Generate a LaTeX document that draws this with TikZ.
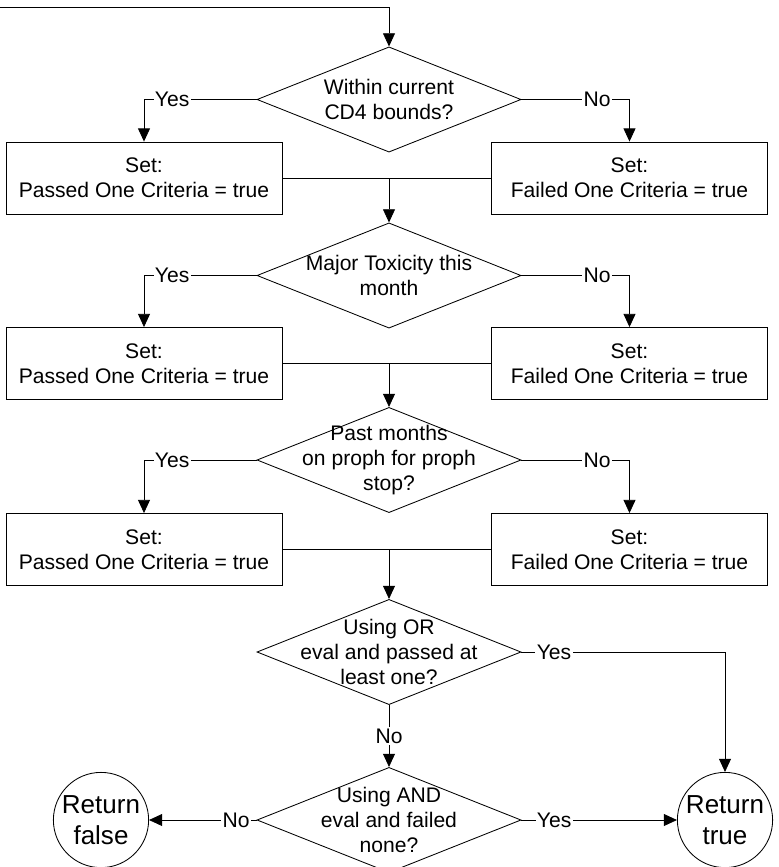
\documentclass[tikz,border=0pt]{standalone}
\usepackage{fontspec}
\setmainfont{Liberation Sans}
\usetikzlibrary{arrows.meta,shapes.geometric}

\begin{document}
\begin{tikzpicture}
[x=0.025cm,y=-0.025cm,
edge/.style={line width=0.6pt},
arrowEnd/.style={-{Triangle[length=0.33cm,width=0.3cm]}},
decision/.style={diamond,draw,line width=0.6pt,minimum width=6.6cm,minimum height=2.63cm,inner sep=-2cm,align=center,font=\fontsize{15}{17.5}\selectfont},
setBox/.style={rectangle,draw,line width=0.6pt,minimum width=6.9cm,minimum height=1.8cm,align=center,font=\fontsize{15}{17.5}\selectfont},
returnNode/.style={circle,draw,line width=0.6pt,minimum size=2.38cm,inner sep=0pt,align=center,font=\fontsize{18.5}{22}\selectfont},
branchLabel/.style={fill=white,inner sep=1pt,font=\fontsize{15}{17.5}\selectfont},
]
\useasboundingbox (0,0) rectangle (778,867);
\coordinate (entry) at (0 , 7);
\node[decision,] (q1) at (389 , 99.5) {Within current\\CD4 bounds?};
\node[setBox,] (pass1) at (144 , 178) {Set:\\Passed One Criteria = true};
\node[setBox,] (fail1) at (629.5 , 178) {Set:\\Failed One Criteria = true};
\coordinate (join1) at (389 , 178);
\node[decision,] (q2) at (389 , 275.5) {Major Toxicity this\\month};
\node[setBox,] (pass2) at (144 , 363.5) {Set:\\Passed One Criteria = true};
\node[setBox,] (fail2) at (629.5 , 363.5) {Set:\\Failed One Criteria = true};
\coordinate (join2) at (389 , 363.5);
\node[decision,] (q3) at (389 , 460) {Past months\\on proph for proph\\stop?};
\node[setBox,] (pass3) at (144 , 549.5) {Set:\\Passed One Criteria = true};
\node[setBox,] (fail3) at (629.5 , 549.5) {Set:\\Failed One Criteria = true};
\coordinate (join3) at (389 , 549.5);
\node[decision,] (q4) at (389 , 652) {Using OR\\eval and passed at\\least one?};
\node[decision,] (q5) at (389 , 820) {Using AND\\eval and failed\\none?};
\node[returnNode,] (retFalse) at (101 , 820) {Return\\false};
\node[returnNode,] (retTrue) at (725 , 820) {Return\\true};
\draw[edge,arrowEnd,](entry) -| (q1) ;
\draw[edge,arrowEnd,](q1) -| node[branchLabel,pos=0.375,] {Yes} (pass1) ;
\draw[edge,arrowEnd,](q1) -| node[branchLabel,pos=0.35,] {No} (fail1) ;
\draw[edge,](pass1) -- (fail1) ;
\draw[edge,arrowEnd,](join1) -- (q2) ;
\draw[edge,arrowEnd,](q2) -| node[branchLabel,pos=0.375,] {Yes} (pass2) ;
\draw[edge,arrowEnd,](q2) -| node[branchLabel,pos=0.35,] {No} (fail2) ;
\draw[edge,](pass2) -- (fail2) ;
\draw[edge,arrowEnd,](join2) -- (q3) ;
\draw[edge,arrowEnd,](q3) -| node[branchLabel,pos=0.375,] {Yes} (pass3) ;
\draw[edge,arrowEnd,](q3) -| node[branchLabel,pos=0.35,] {No} (fail3) ;
\draw[edge,](pass3) -- (fail3) ;
\draw[edge,arrowEnd,](join3) -- (q4) ;
\draw[edge,arrowEnd,](q4) -| node[branchLabel,pos=0.08,] {Yes} (retTrue) ;
\draw[edge,arrowEnd,](q4) -- node[branchLabel,] {No} (q5) ;
\draw[edge,arrowEnd,](q5) -- node[branchLabel,pos=0.19,] {No} (retFalse) ;
\draw[edge,arrowEnd,](q5) -- node[branchLabel,pos=0.21,] {Yes} (retTrue) ;
\end{tikzpicture}
\end{document}
